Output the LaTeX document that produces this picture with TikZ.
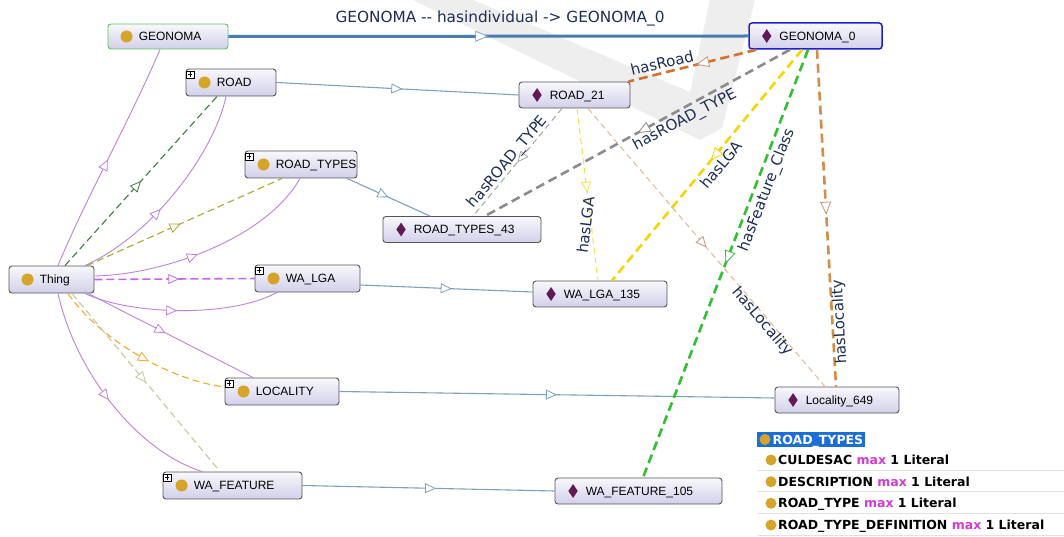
\documentclass[tikz,border=0pt]{standalone}
\usepackage{fontspec}
\setmainfont{Liberation Sans}
\newfontfamily\labfont{DejaVu Sans}
\usetikzlibrary{arrows.meta,decorations.markings,shapes.geometric}

\definecolor{boxtop}{RGB}{248,248,252}
\definecolor{boxbot}{RGB}{210,208,234}
\definecolor{boxline}{RGB}{85,85,90}
\definecolor{geogreen}{RGB}{90,200,90}
\definecolor{geoblue}{RGB}{30,30,210}
\definecolor{golddot}{RGB}{214,164,40}
\definecolor{indiv}{RGB}{95,25,85}
\definecolor{subp}{RGB}{190,130,220}
\definecolor{subpd}{RGB}{200,100,235}
\definecolor{instb}{RGB}{125,162,192}
\definecolor{instbt}{RGB}{70,125,175}
\definecolor{labc}{RGB}{30,45,85}
\definecolor{oroad}{RGB}{215,112,45}
\definecolor{oroadt}{RGB}{200,150,120}
\definecolor{oloc}{RGB}{215,140,70}
\definecolor{ogray}{RGB}{140,140,140}
\definecolor{ograyt}{RGB}{165,165,165}
\definecolor{oyel}{RGB}{245,212,10}
\definecolor{oyelt}{RGB}{240,228,70}
\definecolor{ogreen}{RGB}{50,192,50}
\definecolor{otan}{RGB}{225,185,145}
\definecolor{dgreen}{RGB}{60,125,60}
\definecolor{olive}{RGB}{170,170,50}
\definecolor{dorange}{RGB}{242,170,50}
\definecolor{dtan}{RGB}{200,200,160}
\definecolor{hlblue}{RGB}{25,110,215}
\definecolor{maxc}{RGB}{210,60,210}
\definecolor{sepc}{RGB}{225,225,225}
\definecolor{wmark}{RGB}{238,238,238}

\tikzset{
  box/.style={draw=boxline, line width=0.9pt, rounded corners=3pt, top color=boxtop, bottom color=boxbot, inner sep=0pt},
  ntext/.style={inner sep=0pt, anchor=base west, font=\fontsize{12}{14}\selectfont, text=black},
  cdot/.style={circle, fill=golddot, minimum size=12pt, inner sep=0pt},
  idia/.style={diamond, fill=indiv, minimum width=9.5pt, minimum height=14pt, inner sep=0pt},
  plusbox/.style={draw=black, fill=white, line width=0.5pt, minimum size=7.5pt, inner sep=0pt,
    path picture={\draw[line width=0.5pt] ([xshift=-2.3pt]path picture bounding box.center) -- ([xshift=2.3pt]path picture bounding box.center)
      ([yshift=-2.3pt]path picture bounding box.center) -- ([yshift=2.3pt]path picture bounding box.center);}},
  tri/.style args={#1/#2}{postaction={decorate}, decoration={markings, mark=at position #1 with {\arrow{Triangle[length=11pt,width=10pt,color=#2,fill=white,line width=0.8pt]}}}},
  btri/.style args={#1/#2}{postaction={decorate}, decoration={markings, mark=at position #1 with {\arrow{Triangle[length=13pt,width=11pt,color=#2,fill=white,line width=0.8pt]}}}},
  subc/.style={draw=subp, line width=0.9pt},
  inst/.style={draw=instb, line width=1.1pt},
  opthick/.style={line width=2.6pt, dash pattern=on 9pt off 5pt},
  opthin/.style={line width=1pt, dash pattern=on 6pt off 4pt},
  thdash/.style={line width=1.1pt, dash pattern=on 7pt off 4pt},
  lab/.style={font=\labfont\fontsize{15}{18}\selectfont, text=labc, inner sep=0pt},
  legtext/.style={inner sep=0pt, anchor=base west, font=\labfont\bfseries\fontsize{12.5}{15}\selectfont, text=black},
  ldot/.style={circle, fill=golddot, minimum size=11pt, inner sep=0pt},
}

\newcommand{\ClassBox}[5]{%
  \node[box, minimum width=#3pt, minimum height=27pt, #5] (#1) at (#2) {};
  \node[cdot] (#1-dot) at ([xshift=19pt]#1.west) {};
  \node[ntext] (#1-txt) at ([xshift=31pt,yshift=-4.3pt]#1.west) {#4};}
\newcommand{\PlusMark}[1]{\node[plusbox] (#1-plus) at ([xshift=4.5pt,yshift=-6pt]#1.north west) {};}
\newcommand{\IndBox}[5]{%
  \node[box, minimum width=#3pt, minimum height=26pt, #5] (#1) at (#2) {};
  \node[idia] (#1-dia) at ([xshift=18.5pt]#1.west) {};
  \node[ntext] (#1-txt) at ([xshift=31pt,yshift=-4.3pt]#1.west) {#4};}

\begin{document}
\begin{tikzpicture}[x=1pt,y=-1pt]
\useasboundingbox (0,0) rectangle (1064,537);
\fill[white] (0,0) rectangle (1064,537);
% watermark
\fill[wmark] (413,0) -- (473,0) -- (690,92) -- (710,0) -- (755,0) -- (722,128) -- (700,140) -- cycle;

% class nodes
\ClassBox{geonoma}{168,36.5}{120}{GEONOMA}{draw=geogreen, minimum height=25pt}
\ClassBox{road}{231,82.5}{90}{ROAD}{}
\ClassBox{roadtypes}{301,164.5}{112}{ROAD\_TYPES}{}
\ClassBox{thing}{51.5,279.5}{85}{Thing}{}
\ClassBox{walga}{307.5,278.5}{105}{WA\_LGA}{}
\ClassBox{locality}{282,391.5}{114}{LOCALITY}{}
\ClassBox{wafeature}{232.5,485.5}{139}{WA\_FEATURE}{}
\PlusMark{road}
\PlusMark{roadtypes}
\PlusMark{walga}
\PlusMark{locality}
\PlusMark{wafeature}

% individuals
\IndBox{g0}{815.5,36}{133}{GEONOMA\_0}{draw=geoblue, line width=1.5pt}
\IndBox{r21}{574.5,95}{111}{ROAD\_21}{}
\IndBox{rt43}{462,229.5}{158}{ROAD\_TYPES\_43}{}
\IndBox{wl135}{600,294}{134}{WA\_LGA\_135}{}
\IndBox{loc649}{837,400}{124}{Locality\_649}{}
\IndBox{wf105}{638.5,491}{167}{WA\_FEATURE\_105}{}

% subclass edges from Thing
\draw[subc, tri=0.49/subp] ([xshift=6.5pt]thing.north) .. controls (85,200) and (130,120) .. ([xshift=-8pt]geonoma.south);
\draw[dgreen, thdash, tri=0.5/dgreen] ([xshift=13.5pt]thing.north) -- ([xshift=-14pt]road.south);
\draw[subc, tri=0.42/subp] ([xshift=33.5pt]thing.north) .. controls (155,234) and (215,150) .. ([xshift=-5pt]road.south);
\draw[olive, thdash, tri=0.48/olive] ([xshift=35.5pt]thing.north) -- ([xshift=-19pt]roadtypes.south);
\draw[subc, tri=0.45/subp] ([yshift=3.5pt]thing.east) .. controls (160,275) and (265,240) .. ([xshift=-1pt]roadtypes.south);
\draw[subpd, line width=1.6pt, dash pattern=on 8pt off 4pt, tri=0.53/subpd] (thing.east) -- (walga.west);
\draw[subc, tri=0.48/subp] ([xshift=33.5pt]thing.south) .. controls (130,315) and (230,318) .. ([xshift=-30.5pt]walga.south);
\draw[subc, tri=0.47/subp] ([xshift=36.5pt]thing.south) -- ([xshift=-29pt]locality.north);
\draw[dorange, thdash, tri=0.57/dorange] ([xshift=16.5pt]thing.south) .. controls (100,340) and (170,380) .. ([yshift=4.5pt]locality.west);
\draw[dtan, thdash, tri=0.5/dtan] ([xshift=20.5pt]thing.south) -- ([xshift=-12.5pt]wafeature.north);
\draw[subc, tri=0.5/subp] ([xshift=6.5pt]thing.south) .. controls (75,370) and (135,450) .. ([xshift=-30.5pt]wafeature.north);

% instance edges
\draw[instbt, line width=3pt, btri=0.5/instb] (geonoma.east) -- (g0.west);
\draw[inst, tri=0.52/instb] (road.east) -- (r21.west);
\draw[inst, tri=0.5/instb] ([xshift=46pt]roadtypes.south) -- ([xshift=-32pt]rt43.north);
\draw[inst, tri=0.53/instb] ([yshift=-6.5pt]walga.east) -- ([yshift=2pt]wl135.west);
\draw[inst, tri=0.5/instb] (locality.east) -- ([yshift=2pt]loc649.west);
\draw[inst, tri=0.53/instb] (wafeature.east) -- (wf105.west);

% object property edges
\draw[oroad, opthick, btri=0.47/oroadt] ([xshift=8pt]g0.south west) -- ([xshift=-2pt]r21.north east);
\draw[ogray, opthick, btri=0.5/ogray] ([xshift=-25.5pt]g0.south) -- ([xshift=23pt]rt43.north);
\draw[oyel, opthick, btri=0.48/oyel] ([xshift=-13.5pt]g0.south) -- ([xshift=12pt]wl135.north);
\draw[ogreen, opthick, btri=0.5/ogreen] ([xshift=-7.5pt]g0.south) -- ([xshift=4.5pt]wf105.north);
\draw[oloc, opthick, btri=0.49/oroadt] ([xshift=1.5pt]g0.south) -- ([xshift=-1pt]loc649.north);
\draw[ograyt, opthin, tri=0.5/ograyt] ([xshift=-12.5pt]r21.south) -- ([xshift=11pt]rt43.north);
\draw[oyelt, opthin, tri=0.49/oyelt] ([xshift=2.5pt]r21.south) -- ([xshift=-2pt]wl135.north);
\draw[otan, opthin, tri=0.5/oroadt] ([xshift=13.5pt]r21.south) -- ([xshift=-12pt]loc649.north);

% labels
\node[lab, font=\labfont\fontsize{15.3}{18}\selectfont] (l-title) at (500,18) {GEONOMA {-}{-} hasindividual {-}> GEONOMA\_0};
\node[lab, rotate=13.5] (l-hasroad) at (662,63) {hasRoad};
\node[lab, rotate=27.8] (l-hrt1) at (685,120) {hasROAD\_TYPE};
\node[lab, rotate=49.7] (l-hrt2) at (508,162) {hasROAD\_TYPE};
\node[lab, rotate=83] (l-lga1) at (585.5,225) {hasLGA};
\node[lab, rotate=50] (l-lga2) at (721,164.5) {hasLGA};
\node[lab, rotate=68.8] (l-feat) at (767,190) {hasFeature\_Class};
\node[lab, rotate=-49.2] (l-loc1) at (762,322) {hasLocality};
\node[lab, rotate=93] (l-loc2) at (840,322) {hasLocality};

% legend
\node[fill=hlblue, minimum width=108pt, minimum height=15pt, inner sep=0pt] (hl) at (811,439.5) {};
\node[ldot] (hl-dot) at (765,439.5) {};
\node[legtext, text=white] (hl-txt) at (772.5,444) {ROAD\_TYPES};
\node[ldot] (r1-dot) at (771,460) {};
\node[legtext] (r1-txt) at (778,464.5) {CULDESAC \textcolor{maxc}{max} 1 Literal};
\node[ldot] (r2-dot) at (771,481.7) {};
\node[legtext] (r2-txt) at (778,486.2) {DESCRIPTION \textcolor{maxc}{max} 1 Literal};
\node[ldot] (r3-dot) at (771,503.3) {};
\node[legtext] (r3-txt) at (778,507.8) {ROAD\_TYPE \textcolor{maxc}{max} 1 Literal};
\node[ldot] (r4-dot) at (771,525) {};
\node[legtext] (r4-txt) at (778,529.5) {ROAD\_TYPE\_DEFINITION \textcolor{maxc}{max} 1 Literal};
\draw[sepc, line width=0.8pt] (758,470) -- (1064,470);
\draw[sepc, line width=0.8pt] (758,491.7) -- (1064,491.7);
\draw[sepc, line width=0.8pt] (758,513.3) -- (1064,513.3);
\draw[sepc, line width=0.8pt] (758,535) -- (1064,535);
\end{tikzpicture}
\end{document}
